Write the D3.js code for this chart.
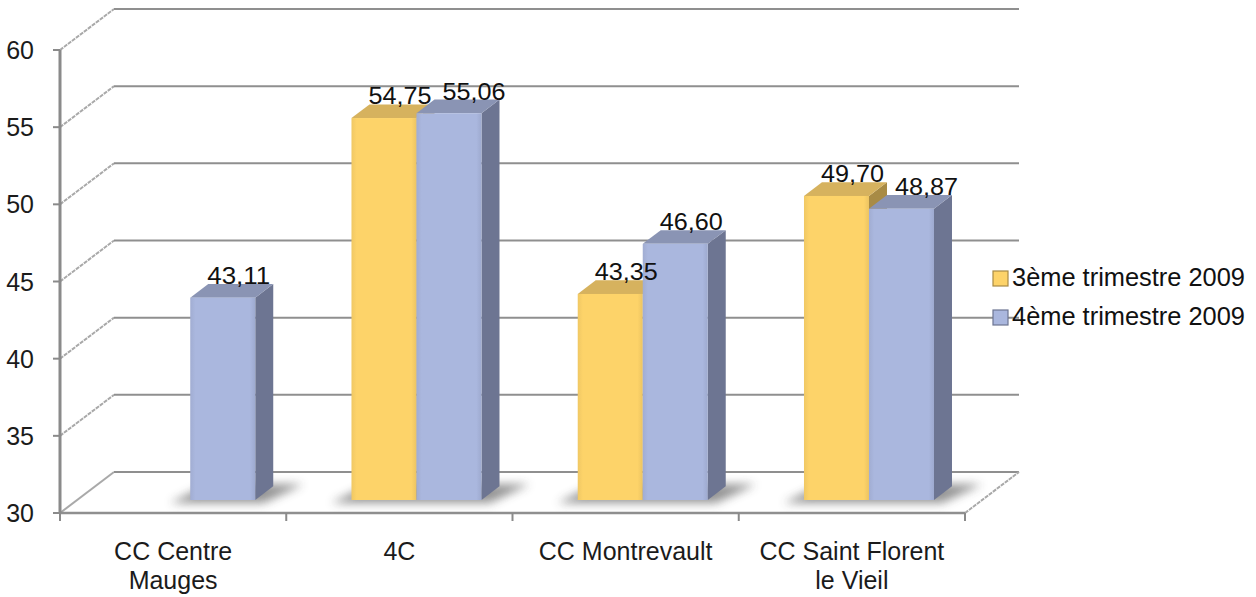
<!DOCTYPE html>
<html><head><meta charset="utf-8">
<script src="https://cdn.jsdelivr.net/npm/d3@7"></script>
<style>
html,body{margin:0;padding:0;background:#fff;}
svg{display:block;font-family:"Liberation Sans",Arial,sans-serif;}
</style></head>
<body>
<svg id="chart" width="1256" height="597"></svg>
<script>
// ---- data ----
const categories = ["CC Centre Mauges", "4C", "CC Montrevault", "CC Saint Florent le Vieil"];
const categoryLines = [["CC Centre","Mauges"],["4C"],["CC Montrevault"],["CC Saint Florent","le Vieil"]];
const seriesNames = ["3ème trimestre 2009", "4ème trimestre 2009"];
const q3Values = [null, 54.75, 43.35, 49.70];
const q4Values = [43.11, 55.06, 46.60, 48.87];
const valueLabelsQ3 = [null, "54,75", "43,35", "49,70"];
const valueLabelsQ4 = ["43,11", "55,06", "46,60", "48,87"];
const yTicks = [30, 35, 40, 45, 50, 55, 60];

// ---- layout ----
const svg = d3.select("#chart");
const x0 = 60, x1 = 965;
const DX = 54, DY = -41;           // full depth offset
const f0 = 0.317, fd = 0.333;      // bar depth position / thickness (fractions)
const y = d3.scaleLinear().domain([30, 60]).range([513, 50]);
const x = d3.scaleBand().domain(categories).range([x0, x1]).paddingInner(0).paddingOuter(0);
const xs = d3.scaleBand().domain([0, 1]).range([0, x.bandwidth()]).paddingOuter(0.74).paddingInner(0);
const FS = 25;

const colors = [
  {front:"#FDD369", top:"#D6B25E", side:"#A88B45"},
  {front:"#AAB7DE", top:"#8A94B4", side:"#6D7592"}
];

const defs = svg.append("defs");
defs.append("filter").attr("id","blur").attr("x","-50%").attr("y","-50%").attr("width","200%").attr("height","200%")
  .append("feGaussianBlur").attr("stdDeviation", 5);
colors.forEach((c,i)=>{
  const g = defs.append("linearGradient").attr("id","fg"+i).attr("x1","0").attr("x2","1").attr("y1","0").attr("y2","0");
  g.append("stop").attr("offset","0%").attr("stop-color", d3.color(c.front).darker(0.15));
  g.append("stop").attr("offset","8%").attr("stop-color", c.front);
  g.append("stop").attr("offset","92%").attr("stop-color", c.front);
  g.append("stop").attr("offset","100%").attr("stop-color", d3.color(c.front).darker(0.2));
});

const gridColor = "#8f8f8f";
const wallColor = "#a9a9a9";

// back wall gridlines + left wall diagonals
yTicks.forEach(t=>{
  const fy = y(t);
  svg.append("line").attr("x1", x0).attr("y1", fy).attr("x2", x0+DX).attr("y2", fy+DY)
    .attr("stroke", wallColor).attr("stroke-width", 2).attr("stroke-dasharray", t===30 ? null : "4,1");
  svg.append("line").attr("x1", x0+DX).attr("y1", fy+DY).attr("x2", x1+DX).attr("y2", fy+DY)
    .attr("stroke", gridColor).attr("stroke-width", 2);
});
// floor right diagonal and front edge
svg.append("line").attr("x1", x1).attr("y1", y(30)).attr("x2", x1+DX).attr("y2", y(30)+DY)
  .attr("stroke", wallColor).attr("stroke-width", 2).attr("stroke-dasharray","4,1");
svg.append("line").attr("x1", x0).attr("y1", y(30)).attr("x2", x1).attr("y2", y(30))
  .attr("stroke", gridColor).attr("stroke-width", 2.5);

// y axis
svg.append("line").attr("x1", x0).attr("y1", y(60)).attr("x2", x0).attr("y2", y(30))
  .attr("stroke", "#8a8a8a").attr("stroke-width", 3);
yTicks.forEach(t=>{
  svg.append("line").attr("x1", x0-7).attr("x2", x0).attr("y1", y(t)).attr("y2", y(t))
    .attr("stroke", "#8a8a8a").attr("stroke-width", 2);
  svg.append("text").attr("x", 34).attr("y", y(t)).attr("dy","0.36em").attr("text-anchor","end")
    .attr("font-size", FS).attr("fill","#1b1b1b").text(t);
});
// category ticks
const catEdges = categories.map(c=>x(c)).concat([x1]);
catEdges.forEach(cx=>{
  svg.append("line").attr("x1", cx).attr("x2", cx).attr("y1", y(30)).attr("y2", y(30)+8)
    .attr("stroke", "#8a8a8a").attr("stroke-width", 2);
});
// category labels
categories.forEach((c,i)=>{
  const t = svg.append("text").attr("text-anchor","middle").attr("font-size", FS).attr("fill","#1b1b1b");
  categoryLines[i].forEach((ln,j)=>{
    t.append("tspan").attr("x", x(c)+x.bandwidth()/2).attr("y", 560 + j*29).text(ln);
  });
});

// bars
const offX = DX*f0, offY = DY*f0;
const bdx = DX*fd, bdy = DY*fd;
const yb = y(30) + offY;
const yv = v => y(v) + offY;
const series = [q3Values, q4Values];
const labels = [valueLabelsQ3, valueLabelsQ4];

// shadows
categories.forEach((c,i)=>{
  const present = [0,1].filter(s=>series[s][i]!=null);
  const gx0 = x(c) + xs(present[0]) + offX;
  const gx1 = x(c) + xs(present[present.length-1]) + xs.bandwidth() + offX;
  const pts = [[gx0-20, yb+3],[gx1+8, yb+3],[gx1+bdx+30, yb+bdy-2],[gx0+bdx, yb+bdy-2]];
  svg.append("polygon").attr("points", pts.map(p=>p.join(",")).join(" "))
    .attr("fill","#3d3d3d").attr("opacity",0.55).attr("filter","url(#blur)");
});

categories.forEach((c,i)=>{
  [0,1].forEach(s=>{
    const v = series[s][i];
    if (v==null) return;
    const bx0 = x(c) + xs(s) + offX, bx1 = bx0 + xs.bandwidth();
    const yt = yv(v);
    const col = colors[s];
    const g = svg.append("g");
    g.append("polygon").attr("points", [[bx1,yt],[bx1+bdx,yt+bdy],[bx1+bdx,yb+bdy],[bx1,yb]].map(p=>p.join(",")).join(" "))
      .attr("fill", col.side);
    g.append("polygon").attr("points", [[bx0,yt],[bx1,yt],[bx1+bdx,yt+bdy],[bx0+bdx,yt+bdy]].map(p=>p.join(",")).join(" "))
      .attr("fill", col.top);
    g.append("rect").attr("x", bx0).attr("y", yt).attr("width", bx1-bx0).attr("height", yb-yt)
      .attr("fill", "url(#fg"+s+")");
  });
});
// value labels (pushed apart when they would collide)
const LW = 63;
categories.forEach((c,i)=>{
  let prev = null;
  [0,1].forEach(s=>{
    const v = series[s][i];
    if (v==null) return;
    const bx0 = x(c) + xs(s) + offX;
    let cx = bx0 + xs.bandwidth()/2 + 16;
    const ly = yv(v)+bdy;
    if (prev && Math.abs(prev.y-ly) < 22 && cx - prev.x < LW + 11) cx = prev.x + LW + 11;
    svg.append("text").attr("x", cx).attr("y", ly)
      .attr("text-anchor","middle").attr("font-size", 23).attr("fill","#111")
      .attr("textLength", LW).attr("lengthAdjust","spacingAndGlyphs").text(labels[s][i]);
    prev = {x: cx, y: ly};
  });
});

// legend
seriesNames.forEach((n,s)=>{
  const ly = 286 + s*39;
  const col = colors[s];
  svg.append("rect").attr("x", 993).attr("y", ly-15).attr("width", 15).attr("height", 15)
    .attr("fill", col.front).attr("stroke", col.side).attr("stroke-width", 1.2);
  svg.append("text").attr("x", 1012).attr("y", ly).attr("font-size", FS).attr("fill","#111")
    .attr("textLength", 233).attr("lengthAdjust","spacingAndGlyphs").text(n);
});
</script>
</body></html>
